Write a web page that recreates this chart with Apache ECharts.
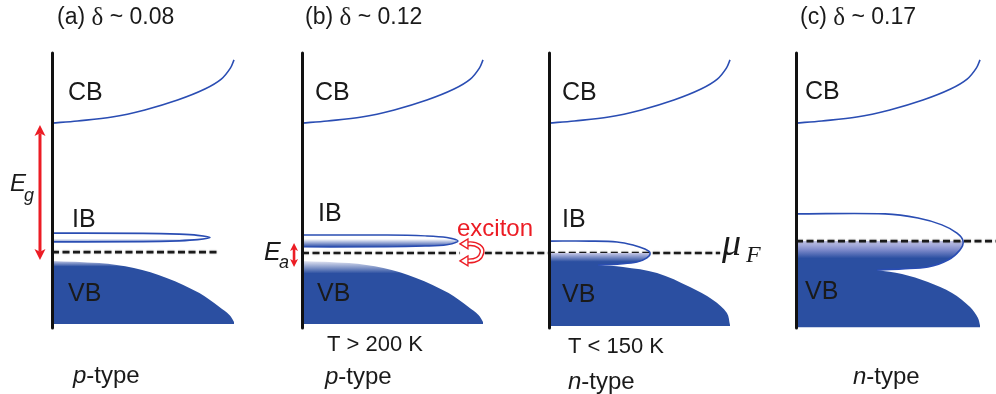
<!DOCTYPE html>
<html>
<head>
<meta charset="utf-8">
<script src="https://cdn.jsdelivr.net/npm/echarts@6/dist/echarts.min.js"></script>
<style>
  html, body { margin: 0; padding: 0; background: #fff; }
  #chart { width: 996px; height: 394px; }
</style>
</head>
<body>
<div id="chart"></div>
<script>
// Band diagrams: horizontal = density of states (0..1 across a panel),
// vertical = energy in arbitrary units (0 = band bottom, 100 = top of panel).

// Conduction band edge, same in every panel
const cbDos = [0, 0.14, 0.33, 0.51, 0.69, 0.84, 0.93, 0.98, 1.0];
const cbE   = [74.5, 75.3, 76.7, 79.3, 82.9, 86.9, 90.5, 94.5, 97.5];

// Valence band edge for (a) and (b) T > 200 K
const vbDos = [0, 0.26, 0.45, 0.63, 0.81, 0.92, 0.975, 1.0];
const vbE   = [24.4, 23.6, 21.8, 18.2, 12.7, 7.6, 4.7, 2.2];
const vbBottom = 1.5;

// Narrow impurity band, (a): upper edge to tip, back along lower edge
const ibADos = [0, 0.5, 0.7, 0.8, 0.868, 0.8, 0.7, 0.5, 0];
const ibAE   = [34.5, 34.4, 34.1, 33.7, 32.9, 32.1, 31.7, 31.4, 31.3];

// Impurity band, (b) T > 200 K
const ibBDos = [0, 0.47, 0.68, 0.8, 0.862, 0.8, 0.68, 0.47, 0];
const ibBE   = [33.8, 33.8, 33.5, 32.9, 31.6, 30.3, 29.8, 29.5, 29.5];

// (b) T < 150 K: impurity band lobe (tip at index 5) merging into the valence band
const lobeB2Dos = [0, 0.227, 0.376, 0.464, 0.530, 0.558, 0.541, 0.486, 0.392, 0.271];
const lobeB2E   = [31.6, 31.6, 31.3, 30.2, 28.7, 27.3, 25.5, 24.0, 23.3, 22.9];
const vbB2Dos   = [0.271, 0.409, 0.597, 0.779, 0.906, 0.983, 1.0];
const vbB2E     = [22.9, 22.2, 20.0, 14.9, 10.2, 5.5, 1.1];
const vbB2Bottom = 0.7;

// (c): wide lobe (tip at index 5) merging into the valence band
const lobeCDos = [0, 0.484, 0.663, 0.793, 0.875, 0.908, 0.891, 0.826, 0.717, 0.576, 0.44];
const lobeCE   = [41.5, 41.5, 40.0, 37.5, 34.5, 31.6, 28.4, 24.7, 22.2, 21.5, 21.1];
const vbCDos   = [0.44, 0.576, 0.717, 0.848, 0.946, 0.989, 1.0];
const vbCE     = [21.1, 19.6, 16.7, 12.7, 7.6, 3.6, 1.0];
const vbCBottom = 0.3;

// Chemical potential levels
const muA = 27.6, muB = 27.3, muC = 31.6;
// Energy gap and activation energy arrows: [upper, lower]
const gapArrowE = [73.8, 24.7];
const actArrowE = [30.9, 22.2];

// Panel placement
const panelLeft  = [52, 302, 549, 796];
const panelWidth = [182, 181, 181, 184];

const FILL = '#2b4fa1', EDGE = '#2a4db3', RED = '#ec1c24', INK = '#1a1a1a';
const SANS = '"Liberation Sans", Arial, sans-serif';
const SERIF = '"Liberation Serif", "Times New Roman", serif';

const zip = (xs, ys) => xs.map((x, i) => [x, ys[i]]);

// Chord-length weighted Catmull-Rom through pixel points, as cubic Bezier segments
function bez(px) {
  const dist = (a, b) => Math.hypot(b[0] - a[0], b[1] - a[1]);
  let d = '';
  for (let i = 0; i < px.length - 1; i++) {
    const p0 = px[Math.max(i - 1, 0)], p1 = px[i], p2 = px[i + 1], p3 = px[Math.min(i + 2, px.length - 1)];
    const d01 = dist(p0, p1), d12 = dist(p1, p2), d23 = dist(p2, p3);
    const k1 = d12 / ((d01 + d12) || 1) / 3, k2 = d12 / ((d12 + d23) || 1) / 3;
    const q0 = d01 ? p0 : p1, q3 = d23 ? p3 : p2;
    const s1 = d01 ? k1 : 1 / 3, s2 = d23 ? k2 : 1 / 3;
    const c1 = [p1[0] + (p2[0] - q0[0]) * s1, p1[1] + (p2[1] - q0[1]) * s1];
    const c2 = [p2[0] - (q3[0] - p1[0]) * s2, p2[1] - (q3[1] - p1[1]) * s2];
    d += ` C${c1[0]},${c1[1]} ${c2[0]},${c2[1]} ${p2[0]},${p2[1]}`;
  }
  return d;
}
// segs: [{pts:[[dos,E],...], smooth:bool}], joined end to end
function buildPath(api, segs, close) {
  let d = '';
  segs.forEach((seg, k) => {
    const px = seg.pts.map(p => api.coord(p));
    d += (k === 0 ? 'M' : ' L') + px[0][0] + ',' + px[0][1];
    if (seg.smooth) d += bez(px);
    else for (let i = 1; i < px.length; i++) d += ' L' + px[i][0] + ',' + px[i][1];
  });
  return close ? d + ' Z' : d;
}
const grad = stops => new echarts.graphic.LinearGradient(0, 0, 0, 1,
  stops.map(([offset, color]) => ({ offset, color })));
const pathEl = (d, style) => ({ type: 'path', shape: { pathData: d }, style });

function dashed(api, x1, x2, e) {
  const a = api.coord([x1, e]), b = api.coord([x2, e]);
  return { type: 'line', shape: { x1: a[0], y1: a[1], x2: b[0], y2: b[1] },
    style: { stroke: INK, lineWidth: 2.6, lineDash: [7, 3.5], shadowBlur: 2, shadowColor: 'rgba(0,0,0,0.3)' } };
}
// double-headed vertical arrow
function vArrow(api, x, eTop, eBot, head, half, lw) {
  const a = api.coord([x, eTop]), b = api.coord([x, eBot]);
  const notch = head * 0.75;
  return [
    { type: 'line', shape: { x1: a[0], y1: a[1] + notch, x2: b[0], y2: b[1] - notch },
      style: { stroke: RED, lineWidth: lw } },
    { type: 'polygon', shape: { points: [[a[0], a[1]], [a[0] + half, a[1] + head], [a[0], a[1] + notch], [a[0] - half, a[1] + head]] },
      style: { fill: RED } },
    { type: 'polygon', shape: { points: [[b[0], b[1]], [b[0] + half, b[1] - head], [b[0], b[1] - notch], [b[0] - half, b[1] - head]] },
      style: { fill: RED } }
  ];
}
function cbLine(api) {
  return pathEl(buildPath(api, [{ pts: zip(cbDos, cbE), smooth: true }], false),
    { stroke: EDGE, lineWidth: 1.6, fill: null });
}

function panelSeries(gi, draw) {
  return {
    type: 'custom', coordinateSystem: 'cartesian2d', xAxisIndex: gi, yAxisIndex: gi,
    data: [[0, 0]], clip: false, silent: true, z: 2,
    renderItem: (params, api) => ({ type: 'group', children: draw(api) })
  };
}

const series = [
  // (a) delta ~ 0.08, p-type
  panelSeries(0, api => [
    pathEl(buildPath(api, [{ pts: [[0, vbBottom], [0, vbE[0]]] }, { pts: zip(vbDos, vbE), smooth: true }, { pts: [[1, vbBottom]] }], true),
      { fill: grad([[0, '#c3c9e6'], [0.09, FILL], [1, FILL]]) }),
    pathEl(buildPath(api, [{ pts: zip(ibADos, ibAE), smooth: true }], true),
      { fill: grad([[0, '#ffffff'], [0.6, '#ffffff'], [1, '#5d78c0']]), stroke: EDGE, lineWidth: 1.8 }),
    cbLine(api),
    dashed(api, 0, 0.907, muA),
    ...vArrow(api, -0.066, gapArrowE[0], gapArrowE[1], 11, 5.5, 3)
  ]),
  // (b) delta ~ 0.12, T > 200 K
  panelSeries(1, api => {
    const c = api.coord([0.939, muB]);
    const cx = c[0], cy = c[1] - 0.5;
    const arc = `M${cx - 5},${cy - 8.5} C${cx + 6},${cy - 10} ${cx + 11},${cy - 4} ${cx + 10},${cy} C${cx + 9},${cy + 5} ${cx + 5},${cy + 9} ${cx - 5},${cy + 8.5}`;
    const head = (ty) => ({ type: 'polygon',
      shape: { points: [[cx - 12, cy + ty], [cx - 4, cy + ty - 5], [cx - 4, cy + ty + 5]] },
      style: { fill: '#fff', stroke: RED, lineWidth: 1.3 } });
    return [
      pathEl(buildPath(api, [{ pts: [[0, vbBottom], [0, vbE[0]]] }, { pts: zip(vbDos, vbE), smooth: true }, { pts: [[1, vbBottom]] }], true),
        { fill: grad([[0, '#e4e6f3'], [0.2, FILL], [1, FILL]]) }),
      pathEl(buildPath(api, [{ pts: zip(ibBDos, ibBE), smooth: true }], true),
        { fill: grad([[0, '#ffffff'], [0.35, '#ffffff'], [0.85, '#4a67b5'], [1, FILL]]), stroke: EDGE, lineWidth: 1.5 }),
      cbLine(api),
      dashed(api, 0, 0.873, muB),
      dashed(api, 1.01, 2.31, muB),
      pathEl(arc, { stroke: RED, lineWidth: 5, fill: null }),
      pathEl(arc, { stroke: '#fff', lineWidth: 2.2, fill: null }),
      head(-8.5), head(8.5),
      ...vArrow(api, -0.044, actArrowE[0], actArrowE[1], 8, 4, 2.6)
    ];
  }),
  // (b) delta ~ 0.12, T < 150 K
  panelSeries(2, api => {
    const tip = 5;
    return [
      pathEl(buildPath(api, [
        { pts: [[0, vbB2Bottom], [0, muB], [lobeB2Dos[tip], muB]] },
        { pts: zip(lobeB2Dos, lobeB2E).slice(tip), smooth: true },
        { pts: zip(vbB2Dos, vbB2E), smooth: true },
        { pts: [[1, vbB2Bottom]] }], true),
        { fill: grad([[0, '#c9cae8'], [0.12, FILL], [1, FILL]]) }),
      pathEl(buildPath(api, [{ pts: zip(lobeB2Dos, lobeB2E), smooth: true }], false),
        { stroke: EDGE, lineWidth: 1.6, fill: null }),
      cbLine(api)
    ];
  }),
  // (c) delta ~ 0.17, n-type
  panelSeries(3, api => {
    const tip = 5;
    return [
      pathEl(buildPath(api, [
        { pts: [[0, vbCBottom], [0, muC], [lobeCDos[tip], muC]] },
        { pts: zip(lobeCDos, lobeCE).slice(tip), smooth: true },
        { pts: zip(vbCDos, vbCE), smooth: true },
        { pts: [[1, vbCBottom]] }], true),
        { fill: grad([[0, '#c5c6e8'], [0.1, '#7f8bcb'], [0.2, FILL], [1, FILL]]) }),
      pathEl(buildPath(api, [{ pts: zip(lobeCDos, lobeCE), smooth: true }], false),
        { stroke: EDGE, lineWidth: 1.6, fill: null }),
      cbLine(api),
      dashed(api, 0, 1.09, muC)
    ];
  })
];

const grid = panelLeft.map((left, i) => ({ left, width: panelWidth[i], top: 53, height: 275 }));
const xAxis = grid.map((g, i) => ({ type: 'value', gridIndex: i, min: 0, max: 1, show: false }));
const yAxis = grid.map((g, i) => ({
  type: 'value', gridIndex: i, min: 0, max: 100, z: 10,
  axisLine: { show: true, onZero: false, lineStyle: { color: '#111', width: 3 } },
  axisTick: { show: false }, axisLabel: { show: false }, splitLine: { show: false }
}));

function txt(x, y, text, size, opts) {
  return { type: 'text', x, y, silent: true, z: 20,
    style: Object.assign({ text, font: `${size}px ${SANS}`, fill: INK, verticalAlign: 'middle' }, opts || {}) };
}
const italicRich = { i: { fontStyle: 'italic', fontFamily: SANS, fontSize: 24 } };
const deltaRich = { d: { fontFamily: SERIF, fontSize: 25 } };

const graphic = [
  txt(57, 18, '(a) {d|δ} ~ 0.08', 23, { rich: deltaRich }),
  txt(305, 18, '(b) {d|δ} ~ 0.12', 23, { rich: deltaRich }),
  txt(800, 18, '(c) {d|δ} ~ 0.17', 23, { rich: deltaRich }),
  txt(68, 93.5, 'CB', 25), txt(315, 93.5, 'CB', 25), txt(562, 93, 'CB', 25), txt(805, 92.5, 'CB', 25),
  txt(72, 220, 'IB', 25), txt(318, 214.5, 'IB', 25), txt(562, 220.5, 'IB', 25),
  txt(68, 294.5, 'VB', 25), txt(317, 294.5, 'VB', 25), txt(562, 295, 'VB', 25), txt(805, 292, 'VB', 25),
  txt(10, 184, 'E', 24, { font: `italic 24px ${SANS}` }),
  txt(24, 196, 'g', 18, { font: `italic 18px ${SANS}` }),
  txt(264, 253.5, 'E', 25, { font: `italic 25px ${SANS}` }),
  txt(279, 262.5, 'a', 18, { font: `italic 18px ${SANS}` }),
  txt(457, 229, 'exciton', 24, { fill: RED }),
  txt(722, 245, 'μ', 38, { font: `italic 38px ${SERIF}` }),
  txt(746, 256, 'F', 24, { font: `italic 24px ${SERIF}` }),
  txt(327, 344.5, 'T > 200 K', 22),
  txt(568, 347, 'T < 150 K', 22),
  txt(73, 376, '{i|p}-type', 24, { rich: italicRich }),
  txt(325, 377, '{i|p}-type', 24, { rich: italicRich }),
  txt(568, 382, '{i|n}-type', 24, { rich: italicRich }),
  txt(853, 377, '{i|n}-type', 24, { rich: italicRich })
];

const chart = echarts.init(document.getElementById('chart'), null, { renderer: 'canvas' });
chart.setOption({
  animation: false,
  backgroundColor: '#fff',
  grid, xAxis, yAxis, series, graphic
});
</script>
</body>
</html>
